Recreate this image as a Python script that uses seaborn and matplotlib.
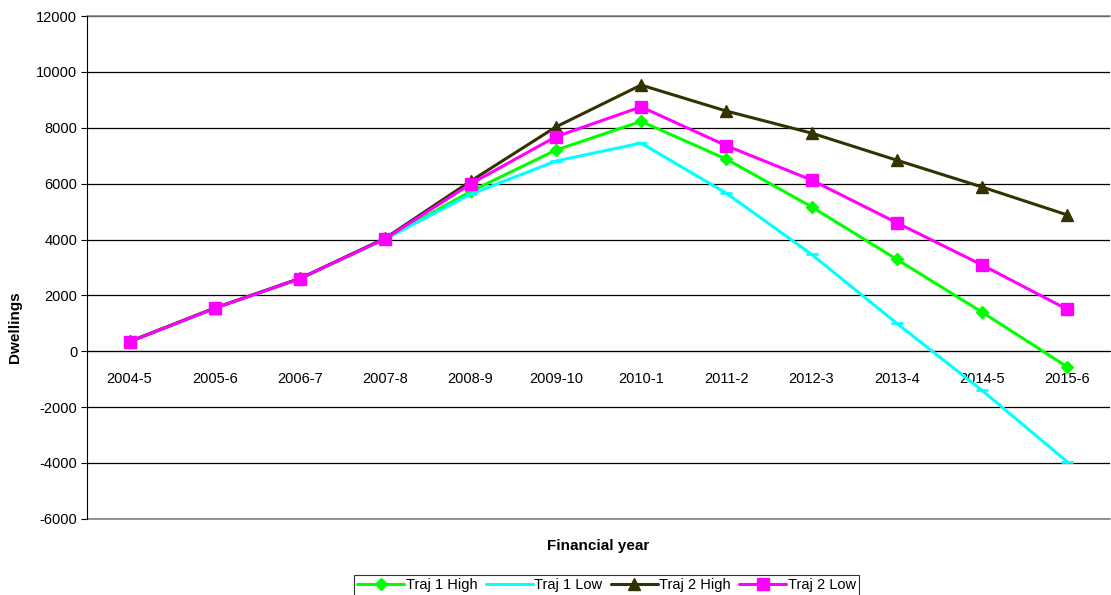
import pandas as pd
import numpy as np
import matplotlib
matplotlib.use("Agg")
import matplotlib.pyplot as plt
import seaborn as sns

# data
years = ["2004-5", "2005-6", "2006-7", "2007-8", "2008-9", "2009-10",
         "2010-1", "2011-2", "2012-3", "2013-4", "2014-5", "2015-6"]
traj1_high = [340, 1540, 2600, 4030, 5720, 7200, 8230, 6880, 5170, 3290, 1400, -560]
traj1_low = [340, 1540, 2600, 4020, 5620, 6810, 7450, 5660, 3470, 1000, -1400, -3960]
traj2_high = [350, 1550, 2610, 4050, 6090, 8030, 9530, 8600, 7810, 6840, 5880, 4880]
traj2_low = [340, 1540, 2600, 4030, 5990, 7680, 8750, 7360, 6130, 4600, 3090, 1500]

series = {
    "Traj 1 High": (traj1_high, "#00FF00", "D", 6),
    "Traj 1 Low": (traj1_low, "#00FFFF", "_", 8),
    "Traj 2 High": (traj2_high, "#333300", "^", 8),
    "Traj 2 Low": (traj2_low, "#FF00FF", "s", 8),
}

sns.set_style("white")
plt.rcParams["font.family"] = ["Liberation Sans", "DejaVu Sans"]
plt.rcParams["axes.unicode_minus"] = False
plt.rcParams["text.color"] = "black"
plt.rcParams["xtick.color"] = "black"
plt.rcParams["ytick.color"] = "black"

fig = plt.figure(figsize=(11.11, 5.95), dpi=100)
ax = fig.add_axes([0.0783, 0.128, 0.9207, 0.845])

x = np.arange(len(years))
for name, (vals, col, mk, ms) in series.items():
    df = pd.DataFrame({"x": x, "y": vals})
    sns.lineplot(data=df, x="x", y="y", ax=ax, color=col, marker=mk,
                 markersize=ms, markeredgecolor=col, markeredgewidth=2 if mk == "_" else 1,
                 linewidth=2.2, label=name, sort=False, zorder=3)

ax.set_xlim(-0.5, len(years) - 0.5)
ax.set_ylim(-6000, 12000)
ax.set_yticks(np.arange(-6000, 12001, 2000))
ax.yaxis.grid(True, color="black", linewidth=0.9)
ax.set_axisbelow(True)
# frame lines at the top and bottom of the plot area
ax.axhline(12000, color="gray", linewidth=1.2, clip_on=False, zorder=1)
ax.axhline(-6000, color="gray", linewidth=1.2, clip_on=False, zorder=1)

ax.spines["bottom"].set_position(("data", 0))
ax.spines["bottom"].set_color("black")
ax.spines["left"].set_color("black")
ax.spines["top"].set_visible(False)
ax.spines["right"].set_visible(False)

ax.set_xticks(x)
ax.set_xticklabels(years, fontsize=10.5)
ax.set_xticks(np.arange(-0.5, len(years)), minor=True)
ax.tick_params(axis="x", which="major", length=0, pad=15)
ax.tick_params(axis="x", which="minor", length=4, direction="out", color="gray")
ax.tick_params(axis="y", labelsize=10.5, length=4, direction="out", color="black", pad=3)
ax.yaxis.set_tick_params(left=True)

ax.set_xlabel("")
ax.set_ylabel("")
ax.text(0.5, -0.054, "Financial year", transform=ax.transAxes, ha="center",
        va="center", fontsize=11, fontweight="bold")
fig.text(0.0135, 0.45, "Dwellings", rotation=90, ha="center", va="center",
         fontsize=11, fontweight="bold")

ax.legend_.remove()
handles, labels = ax.get_legend_handles_labels()
leg = fig.legend(handles, labels, loc="center", ncol=4,
                 bbox_to_anchor=(0.546, 0.016), frameon=True, fancybox=False,
                 edgecolor="black", fontsize=10.5, handlelength=3.2,
                 handletextpad=0.1, columnspacing=0.6, borderpad=0.25)
leg.get_frame().set_linewidth(0.8)

fig.savefig("out.png", dpi=100)
